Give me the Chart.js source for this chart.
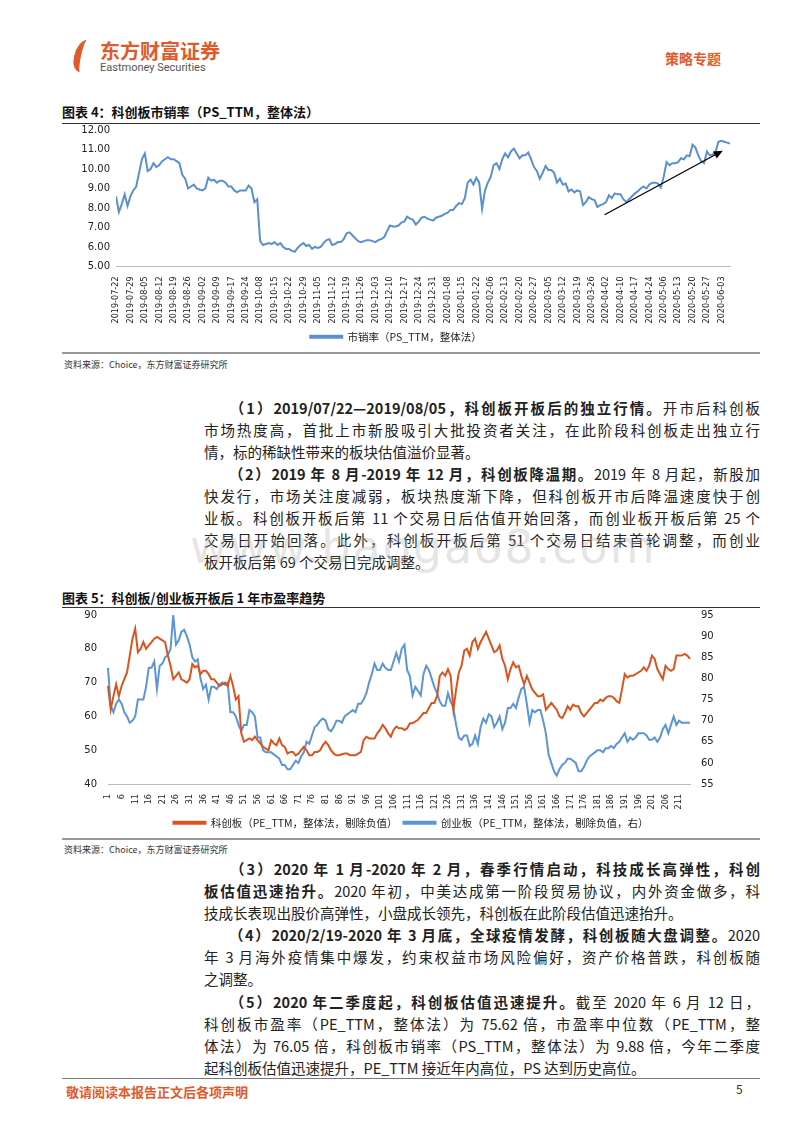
<!DOCTYPE html>
<html><head><meta charset="utf-8">
<script src="https://cdn.jsdelivr.net/npm/chart.js@4/dist/chart.umd.min.js"></script>
<style>
body{margin:0;width:800px;height:1132px;background:#fff;position:relative;font-family:"Noto Sans CJK SC",sans-serif;overflow:hidden}
.a{position:absolute;white-space:nowrap}
.ln{position:absolute;left:204px;width:556px;font-size:14.5px;color:#222;text-align:justify;text-align-last:justify;line-height:20px;white-space:nowrap}
.ln.l{text-align-last:left}
b{font-weight:700}
.ttl{position:absolute;left:62px;font-size:13px;font-weight:700;color:#111}
.rule{position:absolute;left:62px;width:698px;height:1px;background:#333}
.grule{position:absolute;left:62px;width:698px;height:2px;background:#999}
.src{position:absolute;left:64px;font-size:9px;color:#333}
</style></head><body>
<div class="a" style="left:74px;top:40px;width:12px;height:32px;border-left:7px solid #e05a2b;border-radius:60% 0 0 60%;transform:skewX(-12deg)"></div>
<div class="a" style="left:100px;top:36px;font-size:20px;font-weight:700;color:#e05a2b">东方财富证券</div>
<div class="a" style="left:100px;top:61px;font-size:11px;color:#555;font-family:Roboto,sans-serif">Eastmoney Securities</div>
<div class="a" style="left:665px;top:48px;font-size:14px;font-weight:700;color:#e05a2b">策略专题</div>

<div class="ttl" style="top:102px">图表 4：科创板市销率（PS_TTM，整体法）</div>
<div class="rule" style="top:123px"></div>
<div class="a" style="left:62px;top:124px;width:698px;height:228px"><canvas id="c1"></canvas></div>
<div class="grule" style="top:352px"></div>
<div class="src" style="top:358px">资料来源：Choice，东方财富证券研究所</div>

<div class="ln" style="top:398px">　　<b>（1）2019/07/22—2019/08/05，科创板开板后的独立行情。</b>开市后科创板</div>
<div class="ln" style="top:420px">市场热度高，首批上市新股吸引大批投资者关注，在此阶段科创板走出独立行</div>
<div class="ln l" style="top:442px">情，标的稀缺性带来的板块估值溢价显著。</div>
<div class="ln" style="top:464px">　　<b>（2）2019 年 8 月-2019 年 12 月，科创板降温期。</b>2019 年 8 月起，新股加</div>
<div class="ln" style="top:486px">快发行，市场关注度减弱，板块热度渐下降，但科创板开市后降温速度快于创</div>
<div class="ln" style="top:508px">业板。科创板开板后第 11 个交易日后估值开始回落，而创业板开板后第 25 个</div>
<div class="ln" style="top:530px">交易日开始回落。此外，科创板开板后第 51 个交易日结束首轮调整，而创业</div>
<div class="ln l" style="top:552px">板开板后第 69 个交易日完成调整。</div>
<div class="a" style="left:190px;top:520px;font-size:46px;color:rgba(180,180,180,0.35);font-family:'DejaVu Sans';letter-spacing:2px">www.baogao8.com</div>

<div class="ttl" style="top:588px">图表 5：科创板/创业板开板后 1 年市盈率趋势</div>
<div class="rule" style="top:607px"></div>
<div class="a" style="left:62px;top:606px;width:698px;height:232px"><canvas id="c2"></canvas></div>
<div class="grule" style="top:838px"></div>
<div class="src" style="top:843px">资料来源：Choice，东方财富证券研究所</div>

<div class="ln" style="top:859px">　　<b>（3）2020 年 1 月-2020 年 2 月，春季行情启动，科技成长高弹性，科创</b></div>
<div class="ln" style="top:881px"><b>板估值迅速抬升。</b>2020 年初，中美达成第一阶段贸易协议，内外资金做多，科</div>
<div class="ln l" style="top:903px">技成长表现出股价高弹性，小盘成长领先，科创板在此阶段估值迅速抬升。</div>
<div class="ln" style="top:925px">　　<b>（4）2020/2/19-2020 年 3 月底，全球疫情发酵，科创板随大盘调整。</b>2020</div>
<div class="ln" style="top:947px">年 3 月海外疫情集中爆发，约束权益市场风险偏好，资产价格普跌，科创板随</div>
<div class="ln l" style="top:969px">之调整。</div>
<div class="ln" style="top:992px">　　<b>（5）2020 年二季度起，科创板估值迅速提升。</b>截至 2020 年 6 月 12 日，</div>
<div class="ln" style="top:1014px">科创板市盈率（PE_TTM，整体法）为 75.62 倍，市盈率中位数（PE_TTM，整</div>
<div class="ln" style="top:1036px">体法）为 76.05 倍，科创板市销率（PS_TTM，整体法）为 9.88 倍，今年二季度</div>
<div class="ln l" style="top:1058px">起科创板估值迅速提升，PE_TTM 接近年内高位，PS 达到历史高位。</div>
<div class="a" style="left:62px;top:1078px;width:698px;height:1px;background:#777"></div>
<div class="a" style="left:66px;top:1082px;font-size:13px;font-weight:700;color:#e05a2b">敬请阅读本报告正文后各项声明</div>
<div class="a" style="left:736px;top:1080px;font-size:12px;color:#333">5</div>

<script>
const weekLabels=["2019-07-22","2019-07-29","2019-08-05","2019-08-12","2019-08-19","2019-08-26","2019-09-02","2019-09-09","2019-09-17","2019-09-24","2019-10-08","2019-10-15","2019-10-22","2019-10-29","2019-11-05","2019-11-12","2019-11-19","2019-11-26","2019-12-03","2019-12-10","2019-12-17","2019-12-24","2019-12-31","2020-01-08","2020-01-15","2020-01-22","2020-02-06","2020-02-13","2020-02-20","2020-02-27","2020-03-05","2020-03-12","2020-03-19","2020-03-26","2020-04-02","2020-04-10","2020-04-17","2020-04-24","2020-05-06","2020-05-13","2020-05-20","2020-05-27","2020-06-03"];
const psTicks=[5,6,7,8,9,10,11,12];
const psWeekly=[
[8.6,7.8,8.2,8.7,8.1],[8.6,8.9,9.1,9.8,10.5],[10.8,9.9,10.0,10.3,10.1],[10.2,10.4,10.5,10.6,10.5],
[10.5,10.4,10.3,9.7,9.5],[9.0,9.1,9.2,9.0,8.95],[8.9,9.0,9.55,9.4,9.45],[9.3,9.4,9.4,9.3,9.1],
[9.1,8.9,8.8,8.9,8.9],[8.9,9.15,9.0,8.3,8.45],[6.3,6.1,6.15,6.2,6.15],[6.25,6.1,6.2,6.0,5.9],
[5.9,5.8,5.75,5.95,6.1],[6.2,6.05,6.1,5.9,6.0],[5.95,6.0,6.2,6.35,6.4],[6.1,6.15,6.25,6.25,6.4],
[6.7,6.75,6.6,6.45,6.3],[6.25,6.3,6.35,6.35,6.3],[6.25,6.35,6.4,6.5,6.8],[7.1,7.05,7.05,7.1,7.25],
[7.3,7.55,7.45,7.4,7.15],[7.3,7.5,7.55,7.45,7.4],[7.35,7.5,7.55,7.6,7.7],[7.75,7.9,7.9,8.1,8.25],
[8.2,8.5,9.3,9.45,9.2],[9.55,9.3,7.95,8.9,9.3],[9.6,10.2,10.3,10.0,10.5],[10.8,10.6,10.9,11.05,10.8],
[10.55,10.7,10.7,10.85,10.5],[10.1,9.9,9.5,9.8,10.15],[9.95,9.95,9.8,9.3,9.5],[9.2,9.25,8.85,8.95,8.8],
[8.9,8.85,8.15,8.3,8.55],[8.45,8.4,8.05,8.15,8.2],[8.3,8.65,8.5,8.75,8.7],[8.7,8.45,8.3,8.45,8.6],
[8.75,8.85,9.0,9.1,9.0],[9.2,9.3,9.3,9.25,9.05],[9.6,10.35,10.2,10.3,10.3],[10.35,10.55,10.5,10.7,10.65],
[11.25,11.1,10.7,10.4,10.3],[10.9,10.7,10.75,10.9,11.4],[11.45,11.4,11.35,11.3]];
const psArrow={from:[33.9,7.65],to:[42.1,10.94]};

const kcbPE=[69,62,66,69.5,66,69,71,73,78,83,86,79,80,82,80,81,82,83,83.5,83,82.5,82,78,75,71,72,73,71,70.5,70,71,75.5,74.5,75,72.5,73.5,73.5,72.5,71,71,70,69,69.5,70,69,72,69,65,66,55,52.5,53,53.5,53,54,53,52,51,50.5,50,53,52,51.5,53.5,51.5,51,49,49.5,49.5,48.5,49,50,51,50,48.5,48.5,49.5,49.5,50,51.5,52.5,51.5,50,49,48.5,48.5,48.8,49,49,48.5,48.5,48.5,49,49.5,53,54,53.5,53.5,53.5,55,56,57.5,56.5,55,54,56,57,56.5,56.5,56,56.5,58,58,58.5,59,60,61,61,62.5,64,64,66,72,73,72,74,72,62,68,73,75,79.5,80,78,82,83,80,82,83.5,85,83,81,79,79.5,81,77,75,71,74,76,74.5,75,72,69.5,72,70,68,67,66,66,66.5,62,63,64,63,62,60,59.5,61,63,62,63.5,63,63,61,60,61,62,63,64,64,65,64.5,65.5,66,66,65.5,64.5,64,68,72.5,71.5,72,72,72.5,73,73.5,74.5,73.5,75,78,77,74,72.5,71,75,74,73.5,74,78,78,78,78.5,78,77];
const cybPE=[82.5,73.5,72,74,75,74,72,71,69.5,70,71,75,75,75,78,82.5,82.5,84,77.5,83,83.5,85,85.5,87,95,88,89,91,91.5,90,88,85,84,84.5,80,77.5,78.5,75,78,78,77.5,78.5,79,78.5,79,72,72,71,69,67.5,69,69,72.5,72,71,66,66,63,62.5,62.5,62.5,62,61.5,61,59.5,59.5,58.5,58.5,59.5,60.5,60,61.5,62.5,65,64.5,66.5,68.5,69,70,70.5,70,68,67.5,68.5,70,70,69.5,71,71.5,72,72.5,72,74,74,75,76.5,79,81,83.5,82,82,83.5,82.5,82,82,84,86,84,87,88,82,80.5,76,78,77,76,81,83,82,80,78,76.5,74.5,73.5,73.5,76.5,74.5,73,69,66,65.5,66.5,66.5,64,64.5,66.5,64.5,68.5,70.5,69.5,71.5,71,68.5,69.5,71,68,69.5,73,73,74,73,75.5,77.5,78,74,69.5,72.5,72,72.5,72.5,70,67,62,60,58,57,58.5,59.5,60,61,61,60.5,60,58,58,59,60.5,61.5,62,62.5,63,63,62.5,63.5,63.5,64,63.5,64.5,65,66,67,65,66,65.5,66,67,67,67,66.5,65.5,65.5,66,65,66,68,69,67,69,71,69,70,69.5,69.5,69.5,69.5];
const dayLabels=kcbPE.map((_,i)=>String(i+1));

const tickFont={family:"DejaVu Sans",size:10};
const xFont={family:"DejaVu Sans Condensed, DejaVu Sans",size:9};
const legFont={family:"Noto Sans CJK SC",size:10.5};
Chart.defaults.color="#222";
Chart.defaults.animation=false;

const psPts=[];psWeekly.forEach((w,wi)=>w.forEach((v,j)=>psPts.push({x:wi+j/5,y:v})));
const arrowPlugin={id:"arrow",afterDatasetsDraw(ch){const{ctx,scales:{x,y}}=ch;
 const x1=x.getPixelForValue(psArrow.from[0]),y1=y.getPixelForValue(psArrow.from[1]);
 const x2=x.getPixelForValue(psArrow.to[0]),y2=y.getPixelForValue(psArrow.to[1]);
 const a=Math.atan2(y2-y1,x2-x1);ctx.save();ctx.strokeStyle="#000";ctx.fillStyle="#000";ctx.lineWidth=1.3;
 ctx.beginPath();ctx.moveTo(x1,y1);ctx.lineTo(x2-6*Math.cos(a),y2-6*Math.sin(a));ctx.stroke();
 ctx.beginPath();ctx.moveTo(x2,y2);ctx.lineTo(x2-9*Math.cos(a)+4*Math.sin(a),y2-9*Math.sin(a)-4*Math.cos(a));
 ctx.lineTo(x2-9*Math.cos(a)-4*Math.sin(a),y2-9*Math.sin(a)+4*Math.cos(a));ctx.closePath();ctx.fill();ctx.restore();
 // y-axis tick labels, placed through the y scale
 ctx.save();ctx.font="10px 'DejaVu Sans'";ctx.fillStyle="#222";ctx.textAlign="right";ctx.textBaseline="middle";
 psTicks.forEach(v=>ctx.fillText(v.toFixed(2),y.right-6,y.getPixelForValue(v)));ctx.restore();}};
new Chart(document.getElementById("c1"),{type:"line",
 data:{datasets:[{label:"市销率（PS_TTM，整体法）",data:psPts,borderColor:"#5b8fd0",backgroundColor:"#5b8fd0",borderWidth:2,pointRadius:0,tension:0}]},
 options:{responsive:true,maintainAspectRatio:false,layout:{padding:{left:0,right:30,top:6,bottom:0}},
  plugins:{legend:{position:"bottom",labels:{font:legFont,boxWidth:32,boxHeight:2,padding:6,color:"#222"}},tooltip:{enabled:false}},
  scales:{x:{type:"linear",min:0,max:42.6,grid:{display:false},border:{color:"#bbb"},
    ticks:{stepSize:1,autoSkip:false,maxRotation:90,minRotation:90,font:xFont,padding:2,callback:v=>weekLabels[v]||""},
    afterBuildTicks:s=>{s.ticks=weekLabels.map((_,i)=>({value:i}));}},
   y:{min:5,max:12,grid:{display:false},border:{display:false},
    ticks:{display:false},afterFit:s=>{s.width=54;}}}},
 plugins:[arrowPlugin]});

new Chart(document.getElementById("c2"),{type:"line",
 data:{labels:dayLabels,datasets:[
  {label:"科创板（PE_TTM，整体法，剔除负值）",data:kcbPE,borderColor:"#d9541e",backgroundColor:"#d9541e",borderWidth:2,pointRadius:0,yAxisID:"y"},
  {label:"创业板（PE_TTM，整体法，剔除负值，右）",data:cybPE,borderColor:"#5b95d6",backgroundColor:"#5b95d6",borderWidth:2,pointRadius:0,yAxisID:"y1"}]},
 options:{responsive:true,maintainAspectRatio:false,layout:{padding:{left:0,right:0,top:8,bottom:0}},
  plugins:{legend:{position:"bottom",labels:{font:legFont,boxWidth:32,boxHeight:2,padding:6,color:"#222"}},tooltip:{enabled:false}},
  scales:{x:{grid:{display:false},border:{color:"#bbb"},ticks:{autoSkip:false,maxRotation:90,minRotation:90,font:xFont,padding:2,callback:(v,i)=>i%5===0?dayLabels[i]:""}},
   y:{position:"left",min:40,max:90,grid:{display:false},border:{display:false},ticks:{stepSize:10,font:tickFont},afterFit:s=>{s.width=46;}},
   y1:{position:"right",min:55,max:95,grid:{display:false},border:{display:false},ticks:{stepSize:5,font:tickFont},afterFit:s=>{s.width=70;}}}}});
</script></body></html>
